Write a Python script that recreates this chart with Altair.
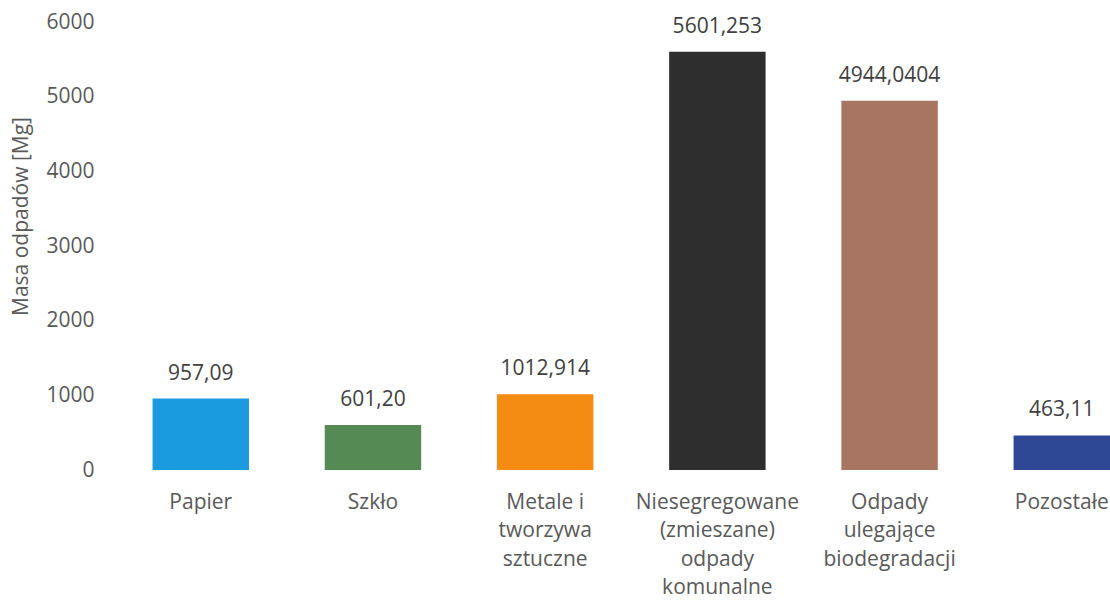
import altair as alt
import pandas as pd

categories = [
    "Papier",
    "Szkło",
    "Metale i\ntworzywa\nsztuczne",
    "Niesegregowane\n(zmieszane)\nodpady\nkomunalne",
    "Odpady\nulegające\nbiodegradacji",
    "Pozostałe",
]
values = [957.09, 601.20, 1012.914, 5601.253, 4944.0404, 463.11]
value_labels = ["957,09", "601,20", "1012,914", "5601,253", "4944,0404", "463,11"]
colors = ["#1a9be0", "#568a55", "#f48c13", "#2e2e2e", "#a87562", "#2f4896"]
y_ticks = [0, 1000, 2000, 3000, 4000, 5000, 6000]

df = pd.DataFrame({"cat": categories, "val": values, "lab": value_labels})

FONT = "Open Sans"

x = alt.X(
    "cat:N",
    sort=None,
    scale=alt.Scale(paddingInner=0.44, paddingOuter=0.109, align=1),
    axis=alt.Axis(
        title=None,
        labelAngle=0,
        labelExpr="split(datum.label, '\\n')",
        labelLineHeight=28.5,
        labelFont=FONT,
        labelFontSize=21,
        labelColor="#595959",
        labelPadding=21,
        ticks=False,
        tickSize=0,
        domain=False,
        grid=False,
        labelLimit=400,
    ),
)
y = alt.Y(
    "val:Q",
    scale=alt.Scale(domain=[0, 6000], nice=False),
    axis=alt.Axis(
        title="Masa odpadów [Mg]",
        values=y_ticks,
        format="d",
        grid=False,
        domain=False,
        ticks=False,
        tickSize=0,
        labelFont=FONT,
        labelFontSize=21,
        labelColor="#595959",
        labelPadding=21,
        titleFont=FONT,
        titleFontSize=21,
        titleFontWeight="normal",
        titleColor="#595959",
        titleX=-84,
        titleY=194,
    ),
)

bars = alt.Chart(df).mark_bar().encode(
    x=x,
    y=y,
    color=alt.Color("cat:N", scale=alt.Scale(domain=categories, range=colors), legend=None),
)
texts = alt.Chart(df).mark_text(
    baseline="alphabetic", dy=-19, font=FONT, fontSize=21, color="#404040"
).encode(x=alt.X("cat:N", sort=None), y="val:Q", text="lab:N")

chart = (
    alt.layer(bars, texts)
    .properties(
        width=995,
        height=448,
        background="white",
        autosize=alt.AutoSizeParams(type="none"),
        padding={"left": 115, "top": 22, "right": 0, "bottom": 131},
    )
    .configure_view(stroke=None, strokeWidth=0)
)

chart.save("out.html", embed_options={"renderer": "svg", "actions": False})
